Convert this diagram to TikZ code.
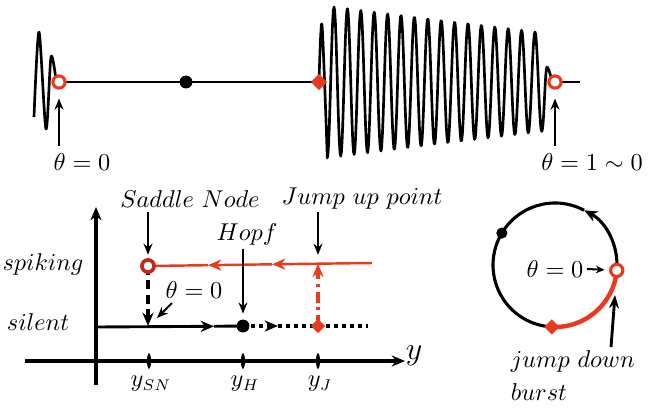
\documentclass[tikz,border=0pt]{standalone}
\usetikzlibrary{arrows.meta,shapes.geometric}
\definecolor{burstred}{RGB}{234,58,30}
\definecolor{ringred}{RGB}{196,38,24}

\begin{document}
\begin{tikzpicture}[x=0.45pt, y=-0.45pt, font=\fontsize{10.5}{12.6}\selectfont]
  \tikzstyle{wave} = [line width=1.2pt, line join=round]
  \tikzstyle{ring} = [circle, draw=burstred, fill=white, line width=1.4pt, minimum size=5.5pt, inner sep=0pt]
  \tikzstyle{dot} = [circle, fill=black, minimum size=5.8pt, inner sep=0pt]
  \tikzstyle{kite} = [diamond, fill=burstred, minimum size=7.5pt, inner sep=0pt]
  \tikzstyle{tick} = [ellipse, fill=black, minimum width=1.8pt, minimum height=7pt, inner sep=0pt]
  \tikzstyle{arrow} = [line width=0.9pt, -{Stealth[length=5pt,width=4pt]}]
  \tikzstyle{axis} = [line width=1.4pt, -{Stealth[length=6pt,width=5pt]}]
  \tikzstyle{branch} = [line width=1.3pt]
  \tikzstyle{mid} = [-{Stealth[length=6pt,width=5pt]}]

  \useasboundingbox (0,0) rectangle (670,409);

  % Top: voltage trace
  \coordinate (q0) at (59,82);
  \coordinate (qh) at (186,82);
  \coordinate (qk) at (319,82);
  \coordinate (q1) at (555,82);
  \coordinate (qe) at (580,82);
  \draw[wave] plot[smooth] coordinates {(34,117) (39,32) (46,129) (51,57) (56,80)} -- (q0);
  \draw[wave] (q0) -- (qk);
  \draw[wave] plot[smooth] coordinates {(qk) (322,25) (327.3,158)}
    -- plot[domain=327.3:541.7, samples=320] (\x, {82-(75-(\x-334)*0.1238)*sin((\x-330.65)*26.8657)})
    .. controls (544,131) and (545,67) .. (547,67)
    .. controls (549,67) and (551,82) .. (q1);
  \draw[wave] (q1) -- (qe);

  \node[ring] (r0) at (q0) {};
  \node[dot] (h0) at (qh) {};
  \node[kite] (k0) at (qk) {};
  \node[ring] (r1) at (q1) {};
  \node (t0) at (82,162) {$\theta=0$};
  \node (t1) at (592,162) {$\theta=1\sim0$};
  \coordinate (a0) at (59,146);
  \coordinate (a1) at (555,146);
  \draw[arrow, shorten >=4pt] (a0) -- (r0);
  \draw[arrow, shorten >=4pt] (a1) -- (r1);

  % Bottom left: branches over y
  \coordinate (yb) at (96,385);
  \coordinate (yt) at (96,207);
  \coordinate (xl) at (25,361);
  \coordinate (xr) at (405,361);
  \draw[axis] (yb) -- (yt);
  \draw[axis] (xl) -- (xr);
  \node (ylab) at (414,356) {\Large$y$};
  \node[tick] (tsn) at (149,361) {};
  \node[tick] (th) at (243,361) {};
  \node[tick] (tj) at (318,361) {};
  \node (lsn) at (151,384) {$y_{SN}$};
  \node (lh) at (245,384) {$y_H$};
  \node (lj) at (320,384) {$y_J$};

  % silent branch
  \coordinate (s0) at (96,327);
  \coordinate (sm) at (214,326.3);
  \coordinate (sh) at (243,326);
  \coordinate (sd) at (278,326);
  \coordinate (sj) at (318,326);
  \coordinate (se) at (368,326);
  \draw[branch, mid] (s0) -- (sm);
  \draw[branch] (sm) -- (sh);
  \draw[line width=1.6pt, dash pattern=on 2pt off 1.6pt, mid] (sh) -- (sd);
  \draw[line width=1.6pt, dash pattern=on 2pt off 1.6pt] (sd) -- (se);

  % spiking branch
  \coordinate (p0) at (148,266);
  \coordinate (pa) at (208,265.2);
  \coordinate (pb) at (272,264.3);
  \coordinate (pj) at (318,263.7);
  \coordinate (pe) at (372,263);
  \draw[burstred, line width=1.1pt, mid] (pe) -- (pb);
  \draw[burstred, line width=1.1pt, mid] (pb) -- (pa);
  \draw[burstred, line width=1.1pt] (pa) -- (p0);
  \draw[burstred, line width=1.4pt, dash pattern=on 5pt off 2pt on 1.5pt off 2pt, mid] (sj) -- (pj);
  \coordinate (ssn) at (148,326);
  \draw[line width=1.5pt, dash pattern=on 4pt off 2.5pt, mid] (p0) -- (ssn);

  \node[ring, draw=ringred, line width=1.6pt] (rsn) at (p0) {};
  \node[dot] (hopf) at (sh) {};
  \node[kite, minimum size=6.5pt] (kj) at (sj) {};

  \node (spk) at (43,264) {$spiking$};
  \node (sil) at (38,322) {$silent$};
  \node (snl) at (190,199) {$Saddle\ Node$};
  \node (hpl) at (247,234) {$Hopf$};
  \node (jul) at (362,199) {$Jump\ up\ point$};
  \node (th0) at (194,290) {$\theta=0$};

  \coordinate (snA) at (148,212);
  \coordinate (hpA) at (243,249);
  \coordinate (juA) at (318,212);
  \coordinate (thA) at (172,303);
  \coordinate (thB) at (157,318);
  \draw[arrow, shorten >=1.5pt] (snA) -- (rsn);
  \draw[arrow, shorten >=2.5pt] (hpA) -- (hopf);
  \draw[arrow, shorten >=4pt] (juA) -- (pj);
  \draw[arrow] (thA) -- (thB);

  % Bottom right: phase circle
  \coordinate (cc) at (555,265);
  \coordinate (cr) at ([shift={(-5:27.9pt)}]cc);
  \coordinate (cu) at ([shift={(62:27.9pt)}]cc);
  \coordinate (ch) at ([shift={(149:27.9pt)}]cc);
  \coordinate (ck) at ([shift={(267:27.9pt)}]cc);
  \draw[line width=1.4pt, mid] (cr) arc[start angle=-5, end angle=62, radius=27.9pt];
  \draw[line width=1.4pt] (cu) arc[start angle=62, end angle=267, radius=27.9pt];
  \draw[burstred, line width=2pt] (ck) arc[start angle=267, end angle=355, radius=27.9pt];

  \node[ring] (rc) at (cr) {};
  \node[dot, minimum size=5pt] (hc) at (ch) {};
  \node[kite, minimum size=7pt] (kc) at (ck) {};
  \node (thc) at (555,269) {$\theta=0$};
  \node[anchor=west] (jd) at (503,361) {$jump\ down$};
  \node[anchor=west] (bu) at (503,392) {$burst$};

  \coordinate (tcA) at (587,269);
  \coordinate (jdA) at (611,347);
  \coordinate (jdB) at (615,295);
  \draw[line width=0.9pt, -{Stealth[length=4pt,width=3.5pt]}, shorten >=2pt] (tcA) -- (rc);
  \draw[line width=1.3pt, -{Stealth[length=6pt,width=4.5pt]}] (jdA) -- (jdB);
\end{tikzpicture}
\end{document}
